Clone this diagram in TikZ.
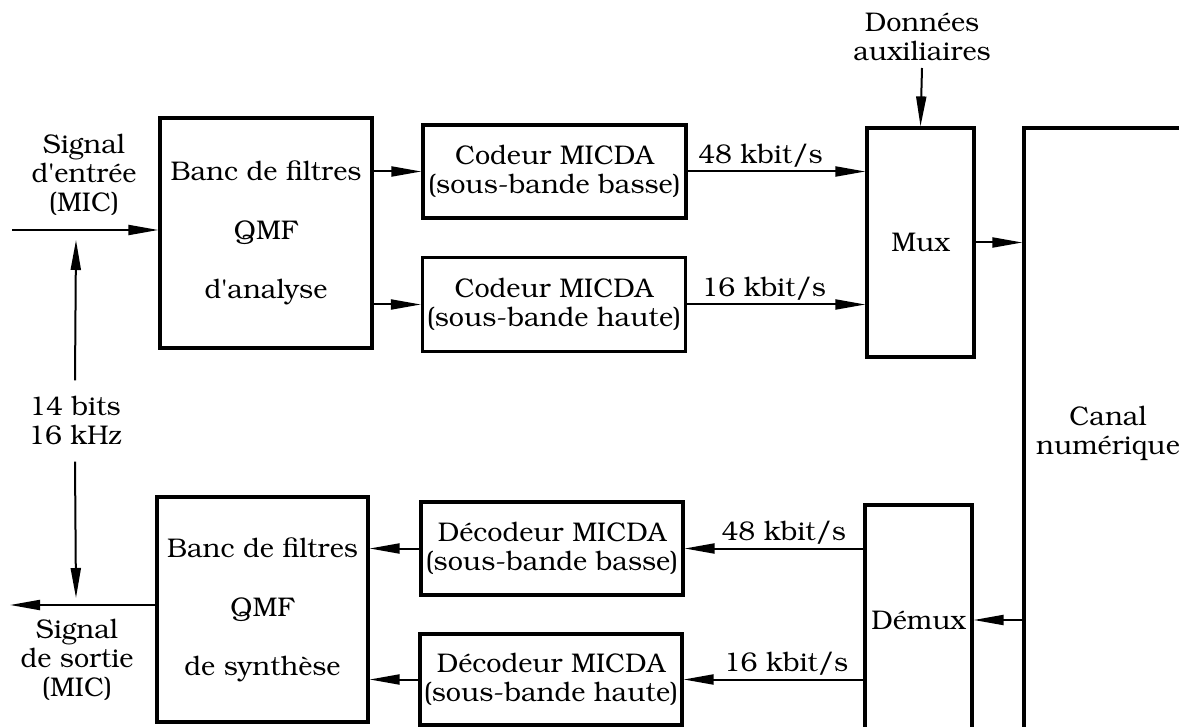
\documentclass[tikz,border=0pt]{standalone}
\usepackage[T1]{fontenc}
\usepackage{bookman}
\usetikzlibrary{arrows.meta}
\begin{document}
\begin{tikzpicture}[x=0.5pt,y=-0.5pt,
  every node/.style={font=\fontsize{13.5}{14.5}\selectfont},
  blk/.style={draw, line width=1.6pt, align=center, inner sep=0pt},
  tall/.style={font=\fontsize{13.5}{29.5}\selectfont},
  arr/.style={line width=1pt, -{Triangle[length=15pt,width=5pt]}},
  lab/.style={align=center},
  rate/.style={above, inner sep=1.5pt}]
\useasboundingbox (0,0) rectangle (1179,727);

% analysis side
\node[blk, tall, minimum width=106pt, minimum height=115pt] (ana) at (266,233) {Banc de filtres\\QMF\\d\textquotesingle analyse};
\node[blk, minimum width=131.5pt, minimum height=46.5pt] (cb) at (554.5,171.5) {Codeur MICDA\\(sous-bande basse)};
\node[blk, minimum width=131.5pt, minimum height=47pt] (ch) at (554,304.5) {Codeur MICDA\\(sous-bande haute)};
\node[blk, minimum width=53.5pt, minimum height=114.5pt] (mux) at (920.5,242.5) {Mux};
\node[lab] (aux) at (922,37) {Donn\'ees\\auxiliaires};

% channel
\node[blk, minimum width=84pt, minimum height=306pt] (chan) at (1108,434) {Canal\\num\'erique};

% synthesis side
\node[blk, minimum width=53.5pt, minimum height=115pt] (demux) at (918.5,620) {D\'emux};
\node[blk, minimum width=131pt, minimum height=46.5pt] (db) at (552,548.5) {D\'ecodeur MICDA\\(sous-bande basse)};
\node[blk, minimum width=131pt, minimum height=45.5pt] (dh) at (551,679.5) {D\'ecodeur MICDA\\(sous-bande haute)};
\node[blk, tall, minimum width=105.5pt, minimum height=112.5pt] (syn) at (262.5,609.5) {Banc de filtres\\QMF\\de synth\`ese};

% left labels
\node[lab] (inlab) at (84,175) {Signal\\d\textquotesingle entr\'ee\\(MIC)};
\node[lab] (outlab) at (77,660) {Signal\\de sortie\\(MIC)};
\node[lab, inner sep=8pt] (bits) at (75,421) {14 bits\\16 kHz};

\coordinate (in) at (12,230);
\coordinate (out) at (10,605);
\coordinate (bitsup) at (76,240);
\coordinate (bitsdn) at (76,598);

% connectors
\draw[arr] (in) -- (in -| ana.west);
\draw[arr] (ana.east |- cb.west) -- (cb.west);
\draw[arr] (ana.east |- ch.west) -- (ch.west);
\draw[arr] (cb.east) -- node[rate, pos=0.41] {48 kbit/s} (cb.east -| mux.west);
\draw[arr] (ch.east) -- node[rate, pos=0.43] {16 kbit/s} (ch.east -| mux.west);
\draw[arr] (aux.south) -- (mux.north);
\draw[arr] (mux.east) -- (mux.east -| chan.west);

\draw[arr] (chan.west |- demux.east) -- (demux.east);
\draw[arr] (demux.west |- db.east) -- node[rate, pos=0.445] {48 kbit/s} (db.east);
\draw[arr] (demux.west |- dh.east) -- node[rate, pos=0.43] {16 kbit/s} (dh.east);
\draw[arr] (db.west) -- (db.west -| syn.east);
\draw[arr] (dh.west) -- (dh.west -| syn.east);
\draw[arr] (out -| syn.west) -- (out);

\draw[arr] (bits.north) -- (bitsup);
\draw[arr] (bits.south) -- (bitsdn);
\end{tikzpicture}
\end{document}
